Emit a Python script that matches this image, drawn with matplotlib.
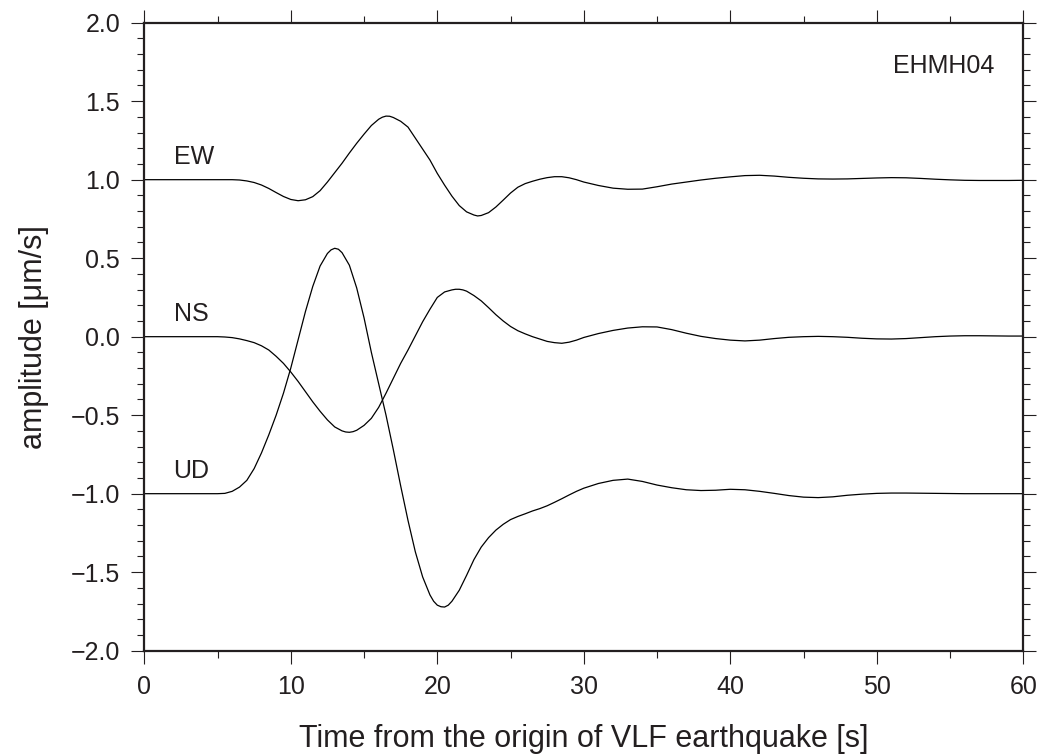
import matplotlib
matplotlib.use("Agg")
import matplotlib.pyplot as plt
from matplotlib.ticker import MultipleLocator

plt.rcParams['font.family'] = ['Liberation Sans', 'DejaVu Sans']

# ---- data ----
t_ew = [0, 2, 4, 6, 6.5, 7, 7.5, 8, 8.5, 9, 9.5, 10, 10.5, 11, 11.5, 12, 12.5, 13, 13.5, 14,
        14.5, 15, 15.5, 16, 16.25, 16.5, 16.75, 17, 17.5, 18, 18.5, 19, 19.5, 20, 20.5, 21, 21.5,
        22, 22.5, 22.75, 23, 23.5, 24, 24.5, 25, 25.5, 26, 26.5, 27, 27.5, 28, 28.5, 29, 29.5,
        30, 31, 32, 33, 34, 35, 36, 37, 38, 39, 40, 41, 42, 43, 44, 45, 46, 47, 48, 49, 50, 51,
        52, 53, 54, 55, 56, 57, 58, 59, 60]
ew = [1.0, 1.0, 1.0, 1.0, 0.998, 0.992, 0.982, 0.966, 0.944, 0.918, 0.893, 0.874, 0.866, 0.872,
      0.892, 0.93, 0.985, 1.045, 1.105, 1.17, 1.232, 1.29, 1.345, 1.385, 1.398, 1.405, 1.404,
      1.396, 1.372, 1.335, 1.265, 1.195, 1.125, 1.04, 0.965, 0.895, 0.835, 0.795, 0.775, 0.769,
      0.772, 0.79, 0.826, 0.87, 0.915, 0.952, 0.975, 0.99, 1.003, 1.013, 1.019, 1.019, 1.012,
      1.0, 0.985, 0.963, 0.946, 0.939, 0.94, 0.955, 0.972, 0.985, 0.998, 1.009, 1.018, 1.026,
      1.028, 1.023, 1.015, 1.009, 1.005, 1.004, 1.005, 1.008, 1.011, 1.013, 1.012, 1.008, 1.003,
      0.999, 0.996, 0.995, 0.995, 0.995, 0.996]

t_ns = [0, 2, 4, 5, 5.5, 6, 6.5, 7, 7.5, 8, 8.5, 9, 9.5, 10, 10.5, 11, 11.5, 12, 12.5, 13, 13.5,
        13.75, 14, 14.25, 14.5, 15, 15.5, 16, 16.5, 17, 17.5, 18, 18.5, 19, 19.5, 20, 20.5, 21,
        21.25, 21.5, 21.75, 22, 22.5, 23, 23.5, 24, 24.5, 25, 25.5, 26, 26.5, 27, 27.5, 28, 28.5,
        29, 29.5, 30, 31, 32, 33, 34, 35, 36, 37, 38, 39, 40, 41, 42, 43, 44, 45, 46, 47, 48, 49,
        50, 51, 52, 53, 54, 55, 56, 57, 58, 59, 60]
ns = [0.0, 0.0, 0.0, 0.0, -0.002, -0.006, -0.014, -0.025, -0.038, -0.058, -0.085, -0.125, -0.17,
      -0.225, -0.285, -0.35, -0.415, -0.475, -0.53, -0.575, -0.600, -0.607, -0.609, -0.605,
      -0.596, -0.565, -0.52, -0.45, -0.36, -0.265, -0.17, -0.085, 0.005, 0.095, 0.175, 0.25,
      0.285, 0.298, 0.302, 0.302, 0.298, 0.29, 0.262, 0.228, 0.185, 0.14, 0.1, 0.065, 0.038,
      0.018, 0.0, -0.015, -0.03, -0.038, -0.042, -0.035, -0.022, -0.005, 0.02, 0.04, 0.055,
      0.063, 0.062, 0.045, 0.022, 0.002, -0.012, -0.022, -0.027, -0.022, -0.012, -0.004, 0.0,
      0.002, 0.0, -0.004, -0.01, -0.014, -0.015, -0.012, -0.006, 0.0, 0.004, 0.006, 0.006,
      0.005, 0.004, 0.004]

t_ud = [0, 2, 4, 5, 5.5, 6, 6.5, 7, 7.5, 8, 8.5, 9, 9.5, 10, 10.5, 11, 11.5, 12, 12.5, 12.75, 13,
        13.25, 13.5, 14, 14.5, 15, 15.5, 16, 16.5, 17, 17.5, 18, 18.5, 19, 19.5, 19.75, 20, 20.25,
        20.5, 20.75, 21, 21.5, 22, 22.5, 23, 23.5, 24, 24.5, 25, 25.5, 26, 26.5, 27, 27.5, 28,
        28.5, 29, 29.5, 30, 31, 32, 33, 34, 35, 36, 37, 38, 39, 40, 41, 42, 43, 44, 45, 46, 47,
        48, 49, 50, 51, 52, 53, 54, 55, 56, 57, 58, 59, 60]
ud = [-1.0, -1.0, -1.0, -1.0, -0.998, -0.985, -0.958, -0.915, -0.84, -0.74, -0.625, -0.5, -0.36,
      -0.2, -0.02, 0.16, 0.32, 0.45, 0.53, 0.553, 0.563, 0.557, 0.535, 0.455, 0.31, 0.12, -0.1,
      -0.3, -0.5, -0.72, -0.95, -1.17, -1.37, -1.53, -1.645, -1.685, -1.71, -1.72, -1.722,
      -1.71, -1.685, -1.615, -1.52, -1.42, -1.34, -1.28, -1.232, -1.195, -1.165, -1.145, -1.128,
      -1.11, -1.095, -1.077, -1.055, -1.032, -1.008, -0.985, -0.965, -0.935, -0.915, -0.907,
      -0.922, -0.945, -0.962, -0.975, -0.98, -0.978, -0.972, -0.975, -0.985, -0.998, -1.012,
      -1.022, -1.025, -1.02, -1.01, -1.003, -0.998, -0.996, -0.996, -0.997, -0.998, -0.999,
      -1.0, -1.0, -1.0, -1.0, -1.0]

component_names = ["EW", "NS", "UD"]
component_offsets = [1.0, 0.0, -1.0]
station = "EHMH04"
xlabel = "Time from the origin of VLF earthquake [s]"
ylabel = "amplitude [\u03bcm/s]"

# ---- figure ----
fig = plt.figure(figsize=(10.41, 7.56), dpi=100)
ax = fig.add_axes([0.1386, 0.1393, 0.983 - 0.1386, 0.970 - 0.1393])

txtc = '#231f20'
for tt, yy in ((t_ew, ew), (t_ns, ns), (t_ud, ud)):
    ax.plot(tt, yy, color='black', lw=0.9, solid_joinstyle='round')

for name, off in zip(component_names, component_offsets):
    ax.text(2, off + 0.1, name, fontsize=18, color=txtc, ha='left', va='baseline')
ax.text(58, 1.68, station, fontsize=18, color=txtc, ha='right', va='baseline')

ax.set_xlim(0, 60)
ax.set_ylim(-2.0, 2.0)
ax.xaxis.set_major_locator(MultipleLocator(10))
ax.xaxis.set_minor_locator(MultipleLocator(5))
ax.yaxis.set_major_locator(MultipleLocator(0.5))
ax.yaxis.set_minor_locator(MultipleLocator(0.1))
ax.yaxis.set_major_formatter(plt.FuncFormatter(lambda v, p: f"{v:.1f}".replace('-', '\u2212')))

ax.tick_params(which='both', direction='out', top=True, right=True, color=txtc,
               labelcolor=txtc, labelsize=18)
ax.tick_params(which='major', length=9.4, width=0.8, pad=8)
ax.tick_params(which='minor', length=5, width=0.8)
for s in ax.spines.values():
    s.set_linewidth(1.6)
    s.set_color(txtc)

ax.set_xlabel(xlabel, fontsize=22, color=txtc, labelpad=18)
ax.set_ylabel(ylabel, fontsize=22, color=txtc, labelpad=16)

fig.savefig("out.png", dpi=100)
